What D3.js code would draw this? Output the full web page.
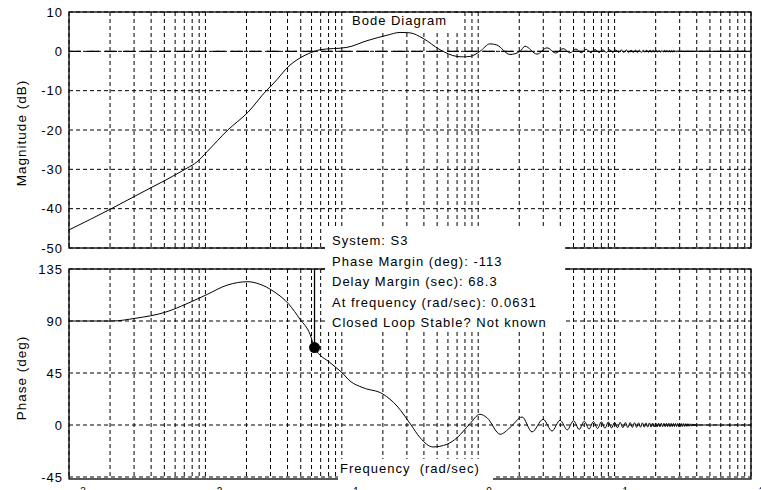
<!DOCTYPE html>
<html>
<head>
<meta charset="utf-8">
<script src="https://cdn.jsdelivr.net/npm/d3@7"></script>
<style>
  body { margin: 0; background: #fff; }
  svg { display: block; }
  text { font-family: "Liberation Sans", Arial, sans-serif; fill: #000; }
</style>
</head>
<body>
<svg id="bode"></svg>
<script>
// magnitude curve (rad/sec, dB)
const magFreq = [
  0.001, 0.00207, 0.00305, 0.00413, 0.00514, 0.006, 0.00733, 0.00868, 0.0103, 0.0146,
  0.0205, 0.0283, 0.0313, 0.0417, 0.0511, 0.0631, 0.0692, 0.109, 0.153, 0.215,
  0.267, 0.316, 0.394, 0.525, 0.70, 0.78, 0.87, 1.03, 1.22, 1.37,
  1.71, 2.03, 2.2, 2.7, 3.2,
  3.7, 4.2, 4.7, 5.2, 5.7, 6.2, 6.7, 7.2, 7.7, 8.2,
  8.7, 9.2, 9.7, 10.2, 10.7, 11.2, 11.7, 12.2, 12.7, 13.2,
  13.7, 14.2, 14.7, 15.2, 15.7, 16.2, 16.7, 17.2, 17.7, 18.2,
  18.7, 19.2, 19.7, 20.2, 20.7, 21.2, 21.7, 22.2, 22.7, 23.2,
  23.7, 24.2, 24.7, 25.2, 25.7, 26.2, 26.7, 27.2, 27.7, 28.2,
  28.7, 29.2, 29.7, 30.2, 30.7, 31.2, 31.7, 32.2, 32.7, 33.2,
  100
];
const magDb = [
  -45.4, -39.9, -36.8, -34.4, -32.7, -31.4, -29.7, -28.1, -25.5, -20,
  -15.5, -9.8, -8.3, -3.5, -1.4, 0, 0.4, 1.0, 2.7, 4.1,
  4.8, 4.7, 3.3, 0.4, -1.3, -1.4, -1.3, 0, 1.9, 1.6,
  -0.8, 0, 1.3, -0.7, 0.9,
  -0.45, 0.7, -0.4, 0.6, -0.35, 0.5, -0.35, 0.45, -0.3, 0.4,
  -0.3, 0.4, -0.3, 0.35, -0.3, 0.35, -0.3, 0.35, -0.3, 0.3,
  -0.3, 0.3, -0.3, 0.3, -0.3, 0.3, -0.25, 0.3, -0.25, 0.3,
  -0.25, 0.25, -0.25, 0.25, -0.25, 0.25, -0.25, 0.25, -0.2, 0.25,
  -0.2, 0.2, -0.2, 0.2, -0.2, 0.2, -0.2, 0.2, -0.2, 0.2,
  -0.2, 0.2, -0.15, 0.15, -0.15, 0.15, -0.1, 0.1, -0.1, 0,
  0
];

// phase curve (rad/sec, deg)
const phaseFreq = [
  0.001, 0.00207, 0.00305, 0.00514, 0.00733, 0.0103, 0.0144, 0.0205, 0.0251, 0.0313,
  0.041, 0.0494, 0.0585, 0.0631, 0.0819, 0.1003, 0.115, 0.143, 0.2, 0.254,
  0.322, 0.375, 0.466, 0.59, 0.70, 0.87, 1.03, 1.16, 1.45, 1.71,
  2.1, 2.48, 2.99, 3.48, 3.98,
  4.5, 5, 5.5, 6, 6.5, 7, 7.5, 8, 8.5, 9,
  9.5, 10, 10.5, 11, 11.5, 12, 12.5, 13, 13.5, 14,
  14.5, 15, 15.5, 16, 16.5, 17, 17.5, 18, 18.5, 19,
  19.5, 20, 20.5, 21, 21.5, 22, 22.5, 23, 23.5, 24,
  24.5, 25, 25.5, 26, 26.5, 27, 27.5, 28, 28.5, 29,
  29.5, 30, 30.5, 31, 31.5, 32, 32.5, 33, 33.5, 34,
  34.5, 35, 35.5, 36, 36.5, 37, 37.5, 38, 38.5, 39,
  39.5, 40, 40.5, 41, 41.5, 42, 100
];
const phaseDeg = [
  90, 90, 92.3, 97.8, 105, 113, 121, 124, 121.8, 116,
  104.4, 91.5, 78.5, 67, 54, 45.3, 38, 32.3, 26.8, 16.4,
  0, -11, -19, -16.7, -11, 1.1, 9.3, 6.3, -8, -2.3,
  6.9, -6, 4.9, -5.2, 4.1,
  -4.2, 3.7, -3.8, 3.3, -3.4, 3.0, -3.0, 2.8, -2.8, 2.6,
  -2.6, 2.4, -2.4, 2.3, -2.3, 2.2, -2.2, 2.1, -2.1, 2.0,
  -2.0, 1.9, -1.9, 1.9, -1.9, 1.8, -1.8, 1.8, -1.8, 1.7,
  -1.7, 1.7, -1.7, 1.6, -1.6, 1.6, -1.6, 1.5, -1.5, 1.5,
  -1.5, 1.5, -1.5, 1.4, -1.4, 1.4, -1.4, 1.3, -1.3, 1.3,
  -1.3, 1.3, -1.3, 1.2, -1.2, 1.2, -1.2, 1.1, -1.1, 1.1,
  -1.1, 1.0, -1.0, 1.0, -1.0, 0.9, -0.9, 0.9, -0.9, 0.8,
  -0.8, 0.8, -0.7, 0.6, -0.5, 0, 0
];

const magTicks = [10, 0, -10, -20, -30, -40, -50];
const phaseTicks = [135, 90, 45, 0, -45];
const decadeExps = [-3, -2, -1, 0, 1, 2];

const pmFreq = 0.0631, pmPhase = 67;
const infoLines = [
  "System: S3",
  "Phase Margin (deg): -113",
  "Delay Margin (sec): 68.3",
  "At frequency (rad/sec): 0.0631",
  "Closed Loop Stable? Not known"
];

const WIDTH = 761, HEIGHT = 490;
const left = 69, right = 751;
const magTop = 12, magBottom = 248;
const phTop = 269, phBottom = 477;

const svg = d3.select("svg#bode")
              .attr("width", WIDTH)
              .attr("height", HEIGHT);

const x = d3.scaleLog().domain([1e-3, 1e2]).range([left, right]);
const yMag = d3.scaleLinear().domain([-50, 10]).range([magBottom, magTop]);
const yPh = d3.scaleLinear().domain([-45, 135]).range([phBottom, phTop]);

// grid frequencies: 1..9 in each decade
const gridFreq = [];
decadeExps.slice(0, -1).forEach((e) => {
    for (let k = 1; k < 10; k++) gridFreq.push(k * Math.pow(10, e));
});
gridFreq.push(100);

const drawPanel = (yScale, ticks, y0, y1) => {
    const g = svg.append("g");
    g.selectAll("line.v")
        .data(gridFreq)
        .join("line")
        .attr("x1", (d) => x(d)).attr("x2", (d) => x(d))
        .attr("y1", y0).attr("y2", y1)
        .attr("stroke", "#000")
        .attr("stroke-width", 1)
        .attr("stroke-dasharray", "4,3");
    g.selectAll("line.h")
        .data(ticks)
        .join("line")
        .attr("x1", left).attr("x2", right)
        .attr("y1", (d) => yScale(d)).attr("y2", (d) => yScale(d))
        .attr("stroke", "#000")
        .attr("stroke-width", 1)
        .attr("stroke-dasharray", "4,3");
    g.selectAll("text")
        .data(ticks)
        .join("text")
        .attr("x", left - 6)
        .attr("y", (d) => yScale(d))
        .attr("dy", "0.36em")
        .attr("text-anchor", "end")
        .style("font-size", "13px")
        .style("letter-spacing", "1px")
        .text((d) => d);
    return g;
};

drawPanel(yMag, magTicks, magTop, magBottom);
drawPanel(yPh, phaseTicks, phTop, phBottom);

// 0 dB line
svg.append("line")
    .attr("x1", left).attr("x2", right)
    .attr("y1", yMag(0)).attr("y2", yMag(0))
    .attr("stroke", "#000")
    .attr("stroke-width", 1.4)
    .attr("stroke-dasharray", "12,6");

const magLine = d3.line().curve(d3.curveMonotoneX).x((d) => x(d[0])).y((d) => yMag(d[1]));
const phLine = d3.line().curve(d3.curveMonotoneX).x((d) => x(d[0])).y((d) => yPh(d[1]));

svg.append("path")
    .attr("d", magLine(d3.zip(magFreq, magDb)))
    .attr("fill", "none")
    .attr("stroke", "#000")
    .attr("stroke-width", 1);

svg.append("path")
    .attr("d", phLine(d3.zip(phaseFreq, phaseDeg)))
    .attr("fill", "none")
    .attr("stroke", "#000")
    .attr("stroke-width", 1);

// frames
svg.append("rect")
    .attr("x", left).attr("y", magTop)
    .attr("width", right - left).attr("height", magBottom - magTop)
    .attr("fill", "none").attr("stroke", "#000").attr("stroke-width", 1.3);
svg.append("rect")
    .attr("x", left).attr("y", phTop)
    .attr("width", right - left).attr("height", phBottom + 2 - phTop)
    .attr("fill", "none").attr("stroke", "#000").attr("stroke-width", 1.3);

// phase margin marker
svg.append("line")
    .attr("x1", x(pmFreq)).attr("x2", x(pmFreq))
    .attr("y1", yPh(135)).attr("y2", yPh(pmPhase))
    .attr("stroke", "#000").attr("stroke-width", 1.3);
svg.append("circle")
    .attr("cx", x(pmFreq)).attr("cy", yPh(pmPhase))
    .attr("r", 5.5)
    .attr("fill", "#000");

// white label boxes
svg.append("rect").attr("x", 346).attr("y", magTop + 1).attr("width", 115).attr("height", 17).attr("fill", "#fff");
svg.append("rect").attr("x", 325).attr("y", 226).attr("width", 240).attr("height", 105).attr("fill", "#fff");
svg.append("rect").attr("x", 338).attr("y", 459).attr("width", 155).attr("height", 31).attr("fill", "#fff");

svg.append("text")
    .attr("x", 352).attr("y", 25)
    .style("font-size", "13px")
    .style("letter-spacing", "1px")
    .text("Bode Diagram");

svg.append("text")
    .attr("x", 332)
    .style("font-size", "13px")
    .style("letter-spacing", "1px")
    .selectAll("tspan")
    .data(infoLines)
    .join("tspan")
    .attr("x", 332)
    .attr("y", (d, i) => 245 + i * 20.5)
    .text((d) => d);

svg.append("text")
    .attr("x", 340).attr("y", 473)
    .style("font-size", "13px")
    .style("letter-spacing", "1px")
    .attr("xml:space", "preserve")
    .text("Frequency  (rad/sec)");

svg.append("text")
    .attr("transform", `translate(26, 133) rotate(-90)`)
    .attr("text-anchor", "middle")
    .style("font-size", "13.5px")
    .style("letter-spacing", "1px")
    .text("Magnitude (dB)");

svg.append("text")
    .attr("transform", `translate(26, 378) rotate(-90)`)
    .attr("text-anchor", "middle")
    .style("font-size", "13.5px")
    .style("letter-spacing", "1px")
    .text("Phase (deg)");

// decade exponents: only their tops fall inside the picture
svg.append("g")
    .selectAll("text")
    .data(decadeExps)
    .join("text")
    .attr("x", (d) => x(Math.pow(10, d)) + 8)
    .attr("y", 495)
    .style("font-size", "10px")
    .text((d) => d);
</script>
</body>
</html>
